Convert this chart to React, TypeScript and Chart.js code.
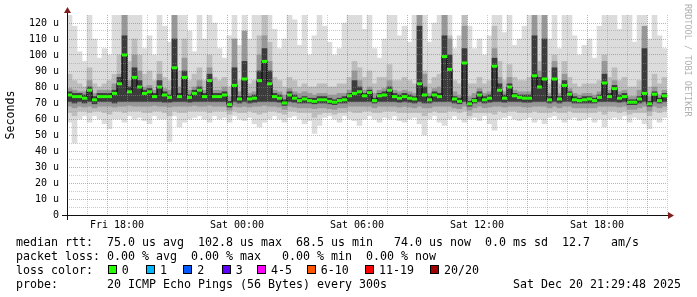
import React, { useEffect, useRef } from 'react';
import { Chart, registerables } from 'chart.js';

Chart.register(...registerables);

// Time axis: hours relative to Fri 18:00; 15-minute consolidated steps
const START_HOUR = -2.5;
const END_HOUR = 27.5;
const STEP_HOURS = 0.25;

// Median RTT (microseconds), one value per step
const medianRtt = [
  75, 74, 74, 73, 78, 72, 74, 74, 74, 76,
  82, 100, 77, 86, 80, 76, 77, 74, 80, 75,
  73.5, 92, 74, 86, 73.5, 76, 78, 74, 84, 74,
  74, 75, 69, 81, 72.5, 85, 72.5, 73, 84, 96,
  82, 74, 73, 70, 75, 73, 71.5, 72.5, 71.5, 71,
  72, 72, 71, 70.5, 71.5, 72, 74.5, 76, 77, 74.5,
  76.5, 71.5, 74.5, 75, 78, 74, 73, 74, 73, 72.5,
  82, 75, 72, 75, 74, 99, 91, 72.5, 71, 95,
  69.5, 71.5, 75, 72, 73, 93, 78, 73, 80, 74.5,
  73.5, 73, 73, 87, 80, 85, 72, 85, 72.5, 81,
  75.5, 72, 71.5, 72, 72.5, 71.5, 73.5, 82.5, 74, 79,
  73, 74, 70.5, 70.5, 72.5, 76, 69.5, 75.5, 71.5, 74.5,
];

// Smoke: outermost band (fastest / slowest pings)
const smokeOuterLow = [
  58, 45, 60, 62, 58, 62, 60, 57, 54, 60,
  60, 58, 62, 60, 61, 59, 57, 62, 60, 60,
  46, 62, 55, 58, 60, 61, 62, 60, 58, 62,
  60, 61, 58, 62, 60, 59, 61, 57, 55, 58,
  60, 62, 60, 58, 61, 62, 60, 57, 59, 51,
  56, 61, 62, 60, 58, 62, 60, 59, 56, 60,
  62, 60, 58, 61, 60, 62, 59, 58, 60, 61,
  57, 50, 60, 62, 58, 56, 60, 62, 60, 58,
  60, 61, 59, 62, 57, 53, 60, 61, 62, 60,
  59, 60, 61, 58, 60, 57, 61, 62, 60, 58,
  60, 61, 59, 60, 61, 58, 60, 55, 60, 61,
  60, 62, 58, 61, 60, 57, 54, 60, 58, 61,
];
const smokeOuterHigh = [
  125, 118, 102, 96, 125, 110, 98, 104, 100, 125,
  125, 125, 125, 125, 125, 104, 112, 100, 125, 118,
  108, 125, 125, 125, 115, 102, 125, 110, 125, 120,
  104, 98, 112, 125, 106, 125, 110, 125, 125, 125,
  125, 116, 104, 110, 125, 122, 106, 125, 100, 112,
  125, 118, 108, 100, 104, 120, 125, 125, 125, 116,
  125, 104, 98, 110, 125, 125, 112, 118, 108, 125,
  125, 125, 108, 120, 125, 125, 125, 104, 112, 125,
  118, 104, 110, 100, 112, 125, 125, 114, 125, 106,
  110, 118, 125, 125, 125, 125, 110, 125, 104, 125,
  125, 112, 100, 106, 110, 98, 118, 125, 125, 125,
  116, 125, 125, 108, 125, 125, 110, 125, 112, 104,
];

// Smoke: middle band
const smokeMidLow = [
  64, 62, 65, 65, 64, 65, 65, 64, 63, 65,
  65, 64, 65, 65, 65, 64, 64, 65, 65, 64,
  62, 65, 64, 64, 65, 65, 65, 65, 64, 65,
  65, 65, 63, 65, 64, 64, 65, 64, 63, 64,
  65, 65, 64, 63, 65, 65, 64, 64, 64, 61,
  63, 64, 64, 63, 64, 64, 65, 64, 64, 65,
  65, 64, 64, 65, 65, 65, 64, 64, 64, 64,
  64, 62, 64, 65, 64, 64, 65, 65, 64, 65,
  62, 64, 64, 64, 64, 63, 65, 64, 65, 65,
  64, 64, 64, 65, 64, 64, 64, 65, 64, 64,
  65, 64, 64, 64, 64, 64, 65, 63, 65, 65,
  64, 65, 63, 64, 64, 64, 62, 65, 64, 65,
];
const smokeMidHigh = [
  88, 84, 82, 80, 92, 82, 80, 82, 84, 88,
  100, 125, 96, 110, 100, 88, 90, 84, 96, 86,
  84, 125, 90, 110, 84, 88, 92, 84, 100, 86,
  84, 86, 80, 96, 84, 104, 82, 84, 112, 125,
  108, 86, 84, 80, 86, 84, 80, 82, 80, 80,
  82, 82, 80, 80, 82, 82, 86, 96, 92, 86,
  90, 82, 86, 86, 94, 84, 84, 86, 84, 82,
  125, 90, 82, 86, 88, 125, 112, 84, 82, 125,
  82, 82, 86, 82, 84, 118, 96, 84, 94, 86,
  84, 84, 86, 116, 96, 120, 82, 100, 82, 96,
  86, 82, 80, 82, 82, 82, 84, 100, 86, 92,
  84, 86, 80, 80, 84, 112, 80, 88, 82, 86,
];

// Smoke: inner band
const smokeInnerLow = [
  68, 67, 68, 67.5, 68, 67, 68, 68, 68, 67.5,
  68, 68, 68.5, 68, 68, 68, 68, 68.5, 68, 68,
  67.5, 68, 68, 68, 68, 68.5, 68, 68, 68.5, 68,
  68, 68, 65.5, 68, 67.5, 68, 67.5, 68, 68, 68.5,
  68, 68, 67.5, 66, 68, 67.5, 67, 67, 67, 66.5,
  67, 67, 66.5, 66, 67, 67, 68, 68, 68, 68,
  68, 67, 68, 68, 68, 68, 67.5, 68, 67.5, 67,
  68, 67, 67, 68, 68, 68, 68, 67, 66.5, 68,
  65.5, 67, 68, 67, 67.5, 68, 68, 67.5, 68, 68,
  68, 67.5, 67.5, 68, 68, 68, 67, 68, 67, 68,
  68, 67, 67, 67, 67, 67, 68, 68, 68, 68,
  67.5, 68, 66, 66, 67, 68, 65, 68, 67, 68,
];
const smokeInnerHigh = [
  79, 78, 77, 77, 84, 76, 78, 78, 78, 82,
  88, 125, 84, 100, 90, 80, 81, 78, 88, 79,
  78, 125, 80, 98, 78, 80, 84, 78, 92, 78,
  78, 80, 74, 110, 77, 115, 76, 77, 100, 112,
  96, 78, 77, 75, 79, 77, 76, 77, 76, 75,
  76, 76, 75, 75, 76, 76, 78, 90, 84, 78,
  80, 76, 78, 79, 84, 78, 77, 78, 77, 76,
  125, 88, 76, 79, 80, 125, 110, 77, 75, 118,
  74, 76, 79, 76, 77, 104, 86, 77, 86, 78,
  77, 77, 77, 125, 90, 125, 76, 96, 76, 88,
  79, 76, 75, 76, 76, 75, 77, 96, 78, 84,
  77, 78, 74, 74, 78, 118, 74, 80, 75, 78,
];

// Smoke: dark core around the median
const smokeCoreLow = [
  71, 70, 71, 70, 71, 69.5, 71, 71, 71, 70,
  71, 71, 71, 71, 71, 71, 71, 71, 71, 70.5,
  70.5, 71, 71, 71, 70.5, 71, 71, 71, 71, 71,
  71, 71, 67.5, 71, 70, 71, 70, 70.5, 71, 71,
  71, 71, 70.5, 68.5, 71, 70.5, 70, 70, 70, 69.5,
  70, 70, 69.5, 69, 70, 70, 71, 71, 71, 71,
  71, 70, 71, 71, 71, 71, 70.5, 71, 70.5, 70,
  71, 70, 70, 71, 71, 71, 71, 70, 69.5, 71,
  68, 70, 71, 70, 70.5, 71, 71, 70.5, 71, 71,
  71, 70.5, 70.5, 71, 71, 71, 70, 71, 70, 71,
  71, 70, 70, 70, 70, 70, 71, 71, 71, 71,
  70.5, 71, 69, 69, 70, 71, 68, 71, 70, 71,
];
const smokeCoreHigh = [
  77, 76, 76, 75, 80, 74, 76, 76, 76, 78,
  86, 112, 80, 92, 84, 78, 79, 76, 84, 77,
  75, 110, 76, 90, 75, 78, 80, 76, 88, 76,
  76, 77, 71, 92, 74, 96, 74, 75, 90, 104,
  90, 76, 75, 72, 77, 75, 73, 74, 73, 73,
  74, 74, 73, 72, 73, 74, 76, 84, 80, 76,
  78, 73, 76, 77, 80, 76, 75, 76, 75, 74,
  118, 80, 74, 77, 76, 112, 100, 74, 73, 104,
  71, 73, 77, 74, 75, 98, 82, 75, 82, 76,
  75, 75, 75, 112, 86, 110, 74, 92, 74, 84,
  77, 74, 73, 74, 74, 73, 75, 88, 76, 81,
  75, 76, 72, 72, 74, 104, 71, 77, 73, 76,
];

// Axis ticks
const yGridValues = [0, 5, 10, 15, 20, 25, 30, 35, 40, 45, 50, 55, 60, 65, 70, 75, 80, 85, 90, 95, 100, 105, 110, 115, 120];
const xGridHours = [-2, -1, 0, 1, 2, 3, 4, 5, 6, 7, 8, 9, 10, 11, 12, 13, 14, 15, 16, 17, 18, 19, 20, 21, 22, 23, 24, 25, 26, 27];
const xLabelHours = [0, 6, 12, 18, 24];
const xLabelTexts = ['Fri 18:00', 'Sat 00:00', 'Sat 06:00', 'Sat 12:00', 'Sat 18:00'];
const yUnit = 'u';

// Legend
const legendMedian = 'median rtt:  75.0 us avg  102.8 us max  68.5 us min   74.0 us now  0.0 ms sd  12.7   am/s';
const legendLoss = 'packet loss: 0.00 % avg  0.00 % max   0.00 % min  0.00 % now';
const legendProbe = 'probe:       20 ICMP Echo Pings (56 Bytes) every 300s                  Sat Dec 20 21:29:48 2025';
const lossLabels = ['0', '1', '2', '3', '4-5', '6-10', '11-19', '20/20'];
const lossColors = ['#26ff00', '#00b8ff', '#0059ff', '#5e00ff', '#ff00ff', '#ff5500', '#ff0000', '#a10000'];

// Layout / style constants
const lossKeyX = [107.7, 146, 183.3, 221.7, 257, 306.7, 365, 430];
const MONO = '"DejaVu Sans Mono", monospace';
const MAJOR_GRID = 'rgba(222,79,79,0.55)';
const MINOR_GRID = 'rgba(150,150,150,0.5)';

const rrdAxes = {
  id: 'rrdAxes',
  afterDraw(chart: any) {
    const { ctx, chartArea: a } = chart;
    const y0 = Math.round(chart.scales.y.getPixelForValue(0));
    const x0 = Math.round(a.left);
    ctx.save();
    ctx.fillStyle = '#111';
    ctx.fillRect(x0 - 5, y0, a.right - x0 + 7, 1);
    ctx.fillRect(x0, a.top - 6, 1, y0 - a.top + 11);
    ctx.fillStyle = '#801f1f';
    ctx.beginPath();
    ctx.moveTo(a.right + 1, y0 - 3);
    ctx.lineTo(a.right + 7, y0 + 0.5);
    ctx.lineTo(a.right + 1, y0 + 4);
    ctx.closePath();
    ctx.fill();
    ctx.beginPath();
    ctx.moveTo(x0 - 3, a.top - 2);
    ctx.lineTo(x0 + 0.5, a.top - 8);
    ctx.lineTo(x0 + 4, a.top - 2);
    ctx.closePath();
    ctx.fill();
    ctx.restore();
  },
};

export default function App() {
  const ref = useRef<HTMLCanvasElement>(null);

  useEffect(() => {
    const hours = medianRtt.map((_, i) => START_HOUR + STEP_HOURS * (i + 0.5));
    const band = (lo: number[], hi: number[], color: string, order: number) => ({
      type: 'bar',
      data: hours.map((h, i) => ({ x: h, y: [lo[i], hi[i]] })),
      backgroundColor: color,
      borderWidth: 0,
      grouped: false,
      barPercentage: 1,
      categoryPercentage: 1,
      order,
    });
    const medianPts = hours.map((h, i) => ({ x: h, y: medianRtt[i] }));

    const chart = new Chart(ref.current as HTMLCanvasElement, {
      type: 'bar',
      data: {
        datasets: [
          band(smokeOuterLow, smokeOuterHigh, '#dcdcdc', 7),
          band(smokeMidLow, smokeMidHigh, '#bdbdbd', 6),
          band(smokeInnerLow, smokeInnerHigh, '#979797', 5),
          band(smokeCoreLow, smokeCoreHigh, '#3c3c3c', 4),
          {
            type: 'line',
            data: medianPts,
            stepped: 'middle',
            borderColor: '#000',
            borderWidth: 1,
            pointRadius: 0,
            fill: false,
            order: 2,
          },
          {
            type: 'line',
            data: medianPts,
            showLine: false,
            pointStyle: 'line',
            pointRadius: 2.5,
            pointBorderWidth: 3,
            pointBorderColor: lossColors[0],
            pointBackgroundColor: lossColors[0],
            order: 1,
          },
        ] as any,
      },
      options: {
        responsive: false,
        animation: false,
        devicePixelRatio: 1,
        events: [],
        layout: { padding: { left: 0, top: 15, right: 30, bottom: 0 }, autoPadding: false },
        plugins: {
          legend: { display: false },
          tooltip: { enabled: false },
          title: { display: false },
        },
        scales: {
          x: {
            type: 'linear',
            min: START_HOUR,
            max: END_HOUR,
            offset: false,
            afterBuildTicks: (s: any) => {
              s.ticks = xGridHours.map((v) => ({ value: v }));
            },
            afterFit: (s: any) => {
              s.height = 82;
            },
            grid: {
              z: 1,
              lineWidth: 1,
              drawTicks: false,
              color: (c: any) => (c.tick && c.tick.value % 3 === 0 ? MAJOR_GRID : MINOR_GRID),
            },
            border: { display: false, dash: [1, 1] },
            ticks: {
              autoSkip: false,
              maxRotation: 0,
              minRotation: 0,
              padding: 4,
              color: '#000',
              font: { family: MONO, size: 10 },
              callback: (v: any) => {
                const k = xLabelHours.indexOf(Number(v));
                return k >= 0 ? xLabelTexts[k] : '';
              },
            },
          },
          y: {
            type: 'linear',
            min: 0,
            max: 125,
            afterBuildTicks: (s: any) => {
              s.ticks = yGridValues.map((v) => ({ value: v }));
            },
            afterFit: (s: any) => {
              s.width = 67;
            },
            grid: {
              z: 1,
              lineWidth: 1,
              drawTicks: false,
              color: (c: any) => (c.tick && c.tick.value % 10 === 0 ? MAJOR_GRID : MINOR_GRID),
            },
            border: { display: false, dash: [1, 1] },
            ticks: {
              autoSkip: false,
              padding: 8,
              color: '#000',
              font: { family: MONO, size: 10 },
              callback: (v: any) => {
                const n = Number(v);
                if (n % 10 !== 0) return '';
                return n === 0 ? '0' : `${n} ${yUnit}`;
              },
            },
            title: {
              display: true,
              text: 'Seconds',
              color: '#000',
              font: { family: MONO, size: 11.6 },
              padding: { top: 4.5, bottom: 0 },
            },
          },
        },
      } as any,
      plugins: [rrdAxes],
    });
    return () => chart.destroy();
  }, []);

  const textStyle: React.CSSProperties = {
    position: 'absolute',
    left: 16,
    fontFamily: MONO,
    fontSize: '11.63px',
    lineHeight: '14px',
    color: '#000',
    whiteSpace: 'pre',
    margin: 0,
  };

  return (
    <div style={{ position: 'absolute', left: 0, top: 0, width: 697, height: 297, background: '#fff', overflow: 'hidden' }}>
      <canvas ref={ref} width={697} height={297} style={{ position: 'absolute', left: 0, top: 0, display: 'block' }} />
      <div
        style={{
          position: 'absolute',
          left: 682,
          top: 4,
          writingMode: 'vertical-rl',
          fontFamily: MONO,
          fontSize: '8.5px',
          lineHeight: '11px',
          color: '#b0b0b0',
          whiteSpace: 'pre',
        }}
      >
        RRDTOOL / TOBI OETIKER
      </div>
      <div style={{ ...textStyle, top: 235 }}>{legendMedian}</div>
      <div style={{ ...textStyle, top: 249 }}>{legendLoss}</div>
      <div style={{ ...textStyle, top: 262.5 }}>loss color:</div>
      {lossLabels.map((lab, i) => (
        <React.Fragment key={lab}>
          <span
            style={{
              position: 'absolute',
              left: lossKeyX[i],
              top: 265,
              width: 9,
              height: 9,
              boxSizing: 'border-box',
              border: '1px solid #000',
              background: lossColors[i],
            }}
          />
          <span style={{ ...textStyle, left: lossKeyX[i] + 14, top: 262.5 }}>{lab}</span>
        </React.Fragment>
      ))}
      <div style={{ ...textStyle, top: 276.5 }}>{legendProbe}</div>
    </div>
  );
}
